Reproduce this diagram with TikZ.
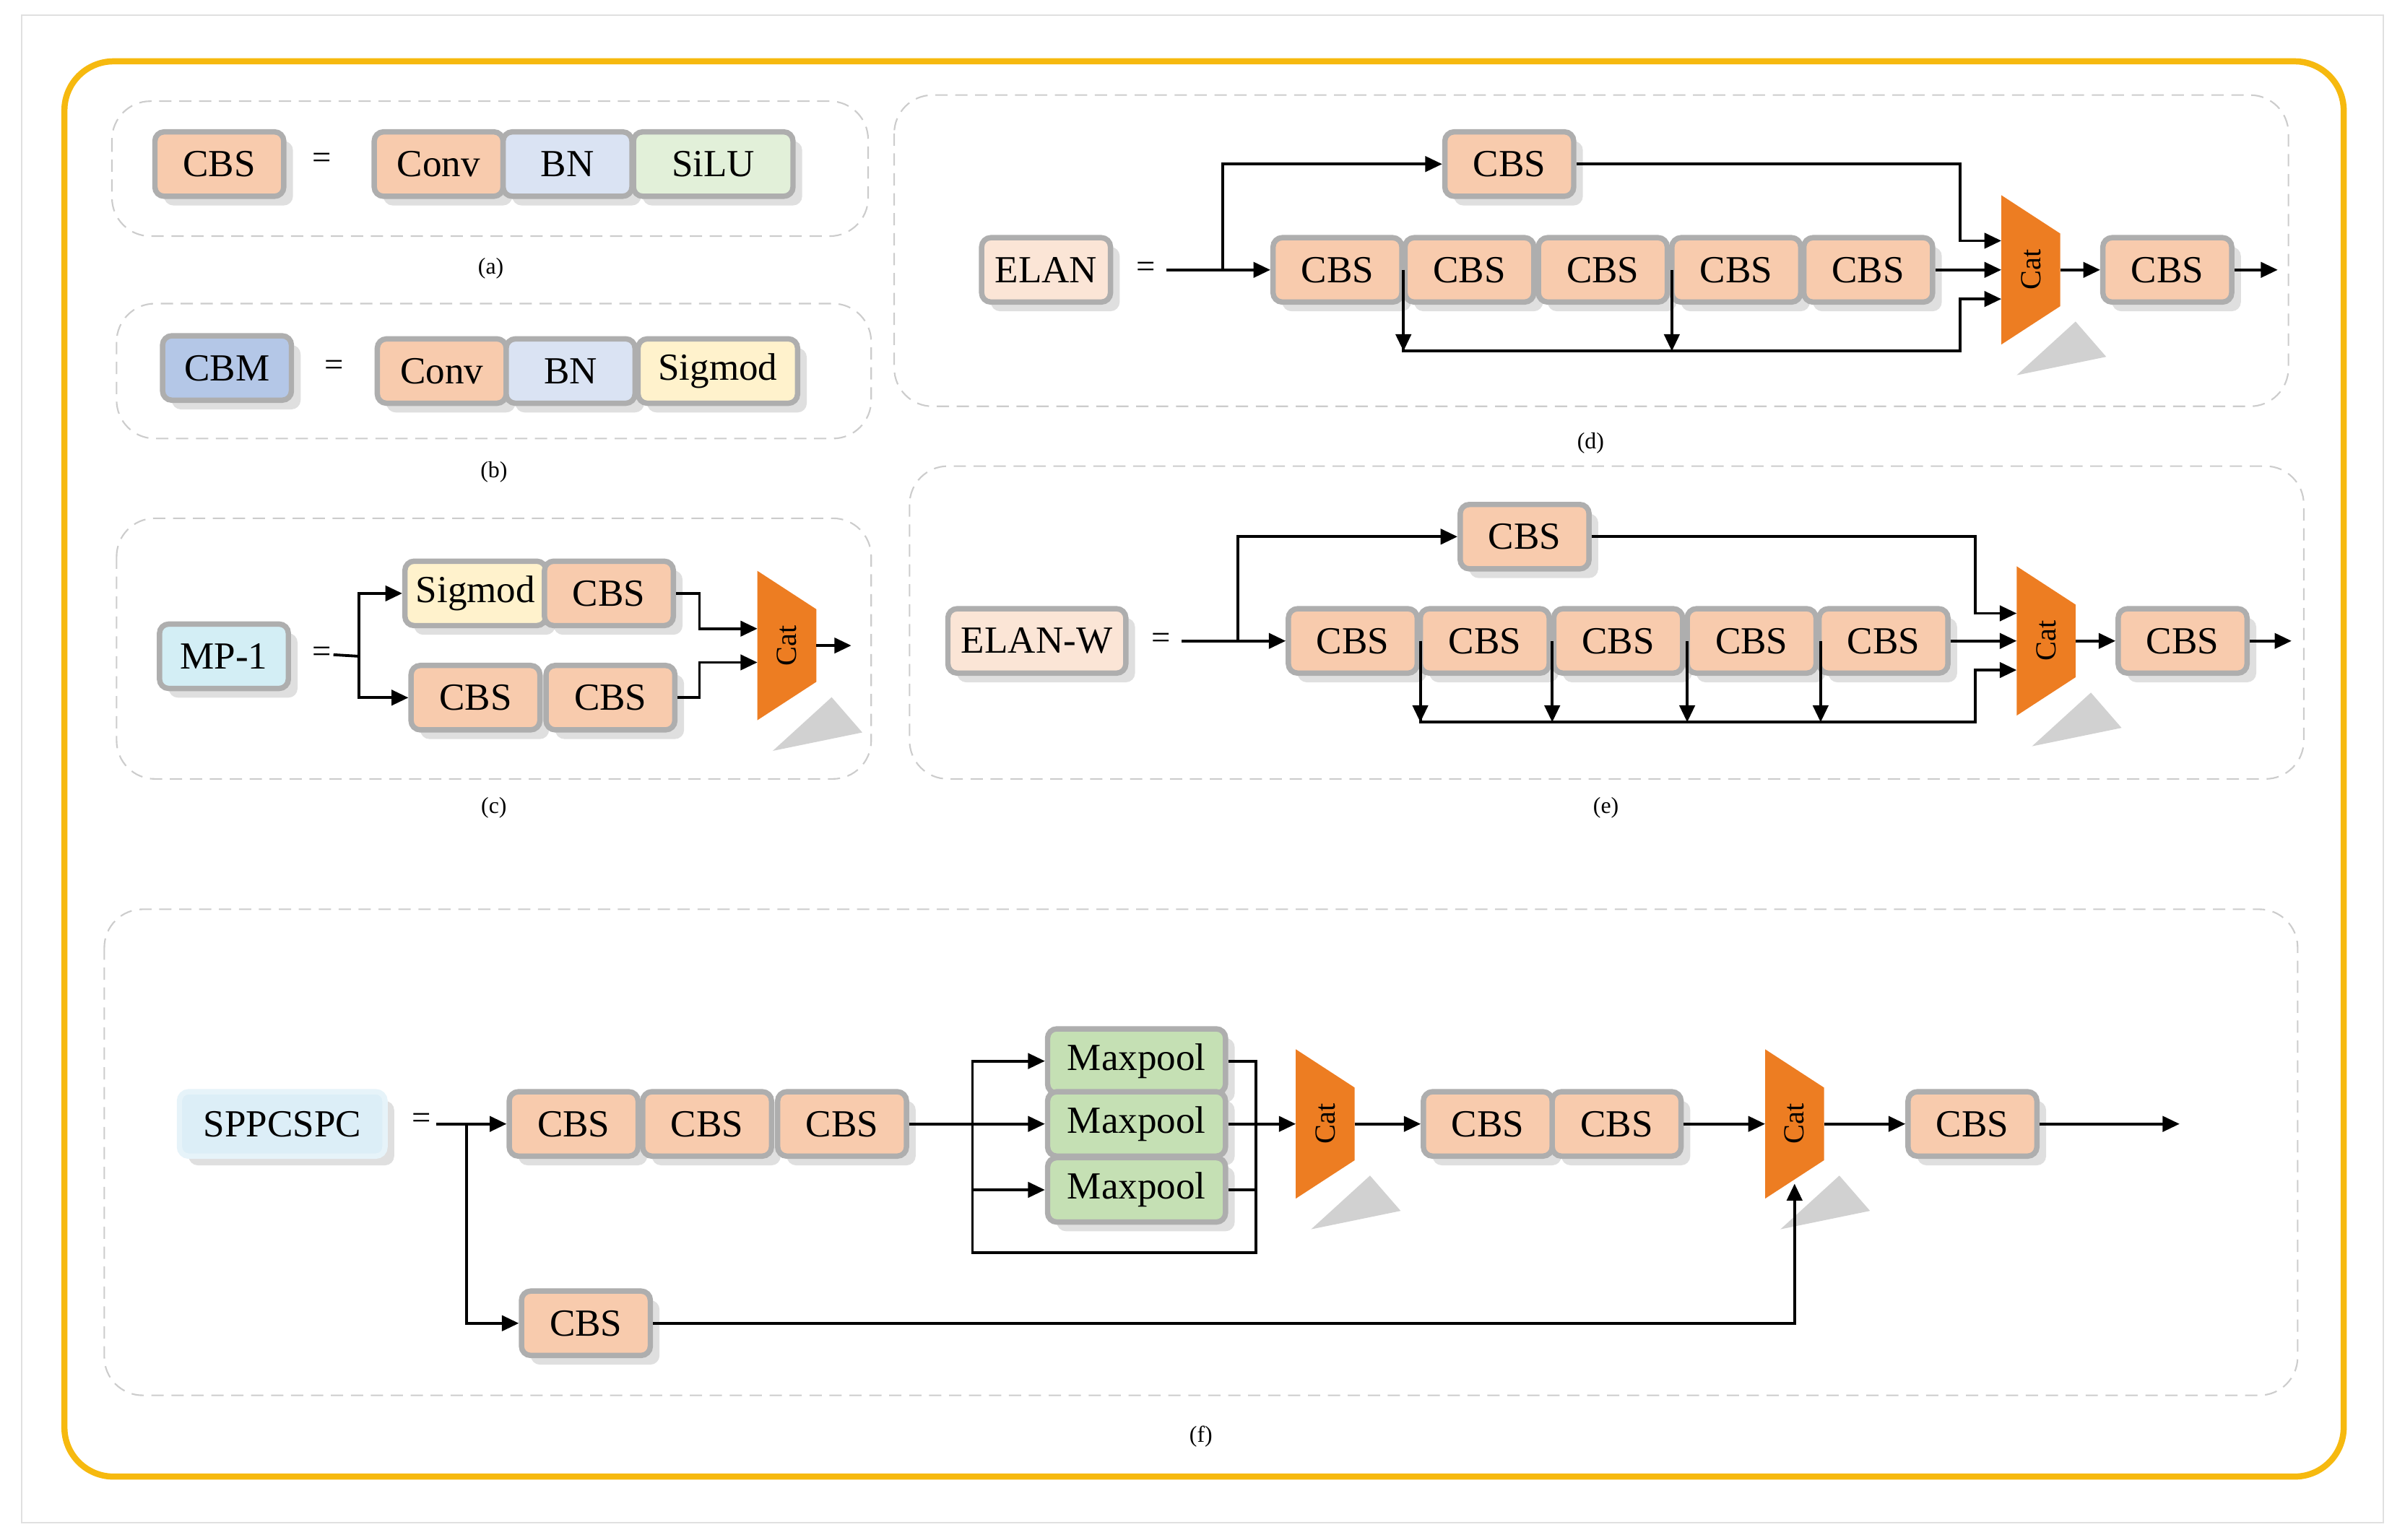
\documentclass[tikz,border=0pt]{standalone}
\usepackage{fontspec}
\setmainfont{Liberation Serif}
\usetikzlibrary{shadows,arrows.meta,calc}
\definecolor{cbsf}{HTML}{F8CBAD}
\definecolor{bnf}{HTML}{DAE3F3}
\definecolor{siluf}{HTML}{E2F0D9}
\definecolor{sigf}{HTML}{FFF2CC}
\definecolor{cbmf}{HTML}{B4C7E7}
\definecolor{mpf}{HTML}{D3EEF5}
\definecolor{elanf}{HTML}{FBE5D6}
\definecolor{mxf}{HTML}{C5E0B4}
\definecolor{sppf}{HTML}{DCEEF7}
\definecolor{catf}{HTML}{ED7D22}
\definecolor{outer}{HTML}{F6B90F}
\definecolor{bord}{HTML}{AEAEAE}
\definecolor{dash}{HTML}{CCCCCC}
\tikzset{
 blk/.style={draw=bord,line width=3.5pt,rounded corners=6pt,fill=cbsf,minimum height=42pt,minimum width=84pt,inner sep=0pt,
   font=\fontsize{25}{30}\selectfont,drop shadow={opacity=.25,shadow xshift=6pt,shadow yshift=-6pt}},
 panel/.style={draw=dash,dashed,line width=1pt,dash pattern=on 8pt off 5pt,rounded corners=25pt},
 lab/.style={font=\fontsize{15}{18}\selectfont},
 eq/.style={font=\fontsize{22}{26}\selectfont,inner sep=1pt},
 arr/.style={line width=1.8pt,-{Triangle[length=11pt,width=10pt]}},
 ln/.style={line width=1.8pt},
 catn/.style={minimum width=38pt,minimum height=97pt,inner sep=0pt},
}
\newcommand\catdraw[1]{%
 \fill[black,opacity=.18] ([xshift=10pt,yshift=-20pt]#1.south west) -- ([xshift=30pt,yshift=-8pt]#1.south east) -- ([xshift=10pt,yshift=15pt]#1.south east) -- cycle;
 \fill[catf] (#1.north west) -- ([yshift=-25pt]#1.north east) -- ([yshift=25pt]#1.south east) -- (#1.south west) -- cycle;
 \node[rotate=90,font=\fontsize{19}{22}\selectfont] at (#1) {Cat};}
\begin{document}
\begin{tikzpicture}[x=1pt,y=-1pt]
\useasboundingbox (0,0) rectangle (1568,1004);
\draw[black!12,line width=.8pt] (14,10) rectangle (1554,993);
\draw[outer,line width=4pt,rounded corners=32pt] (42,40) rectangle (1528,963);
% panels
\draw[panel] (73,66) rectangle (566,154);
\draw[panel] (76,198) rectangle (568,286);
\draw[panel] (76,338) rectangle (568,508);
\draw[panel] (583,62) rectangle (1492,265);
\draw[panel] (593,304) rectangle (1502,508);
\draw[panel] (68,593) rectangle (1498,910);
\node[lab] (la) at (320,175) {(a)};
\node[lab] (lb) at (322,308) {(b)};
\node[lab] (lc) at (322,527) {(c)};
\node[lab] (ld) at (1037,289) {(d)};
\node[lab] (le) at (1047,527) {(e)};
\node[lab] (lf) at (783,937) {(f)};
% (a)
\node[blk] (a0) at (143,107) {CBS};
\node[eq] (aeq) at (210,105) {=};
\node[blk] (a1) at (286,107) {Conv};
\node[blk,fill=bnf] (a2) at (370,107) {BN};
\node[blk,fill=siluf,minimum width=104pt] (a3) at (465,107) {SiLU};
% (b)
\node[blk,fill=cbmf] (b0) at (148,240) {CBM};
\node[eq] (beq) at (218,240) {=};
\node[blk] (b1) at (288,242) {Conv};
\node[blk,fill=bnf] (b2) at (372,242) {BN};
\node[blk,fill=sigf,minimum width=104pt] (b3) at (468,242) {Sigmod};
% (c)
\node[blk,fill=mpf] (c0) at (146,428) {MP-1};
\node[eq] (ceq) at (210,427) {=};
\node[blk,fill=sigf,minimum width=92pt] (c1) at (310,387) {Sigmod};
\node[blk] (c2) at (397,387) {CBS};
\node[blk] (c3) at (310,455) {CBS};
\node[blk] (c4) at (398,455) {CBS};
\node[catn] (ccat) at (513,421) {};
\catdraw{ccat}
\draw[ln] (ceq.east) -- (234,428) coordinate (cb);
\draw[arr] (cb) |- (c1.west);
\draw[arr] (cb) |- (c3.west);
\draw[arr] (c2.east) -| (456,410) -- (ccat.west |- 0,410);
\draw[arr] (c4.east) -| (456,432) -- (ccat.west |- 0,432);
\draw[arr] ([yshift=0pt]ccat.east) -- (555,421) coordinate (cout);
% (d)
\node[blk,fill=elanf] (d0) at (682,176) {ELAN};
\node[eq] (deq) at (747,176) {=};
\node[blk] (dt) at (984,107) {CBS};
\foreach \i/\x in {1/872,2/958,3/1045,4/1132,5/1218}{\node[blk] (d\i) at (\x,176) {CBS};}
\node[catn] (dcat) at (1324,176) {};
\catdraw{dcat}
\node[blk] (dout) at (1413,176) {CBS};
\coordinate (dbot) at (1278,229);
\draw[arr] (deq.east)++(6,0) -- (d1.west);
\draw[arr] (797,176) |- (dt.west);
\draw[arr] (dt.east) -| (1278,157) -- (dcat.west |- 0,157);
\draw[arr] (d5.east) -- (dcat.west);
\draw[arr] (915,176) |- (dbot) -- (1278,195) -- (dcat.west |- 0,195);
\draw[arr] (915,176) -- (915,229);
\draw[arr] (1090,176) -- (1090,229);
\draw[arr] (dcat.east) -- (dout.west);
\draw[arr] (dout.east) -- (1485,176) coordinate (doutc);
% (e)
\node[blk,fill=elanf,minimum width=116pt] (e0) at (676,418) {ELAN-W};
\node[eq] (eeq) at (757,418) {=};
\node[blk] (et) at (994,350) {CBS};
\foreach \i/\x in {1/882,2/968,3/1055,4/1142,5/1228}{\node[blk] (e\i) at (\x,418) {CBS};}
\node[catn] (ecat) at (1334,418) {};
\catdraw{ecat}
\node[blk] (eout) at (1423,418) {CBS};
\coordinate (ebot) at (1288,471);
\draw[arr] (eeq.east)++(6,0) -- (e1.west);
\draw[arr] (807,418) |- (et.west);
\draw[arr] (et.east) -| (1288,400) -- (ecat.west |- 0,400);
\draw[arr] (e5.east) -- (ecat.west);
\draw[arr] (926,418) |- (ebot) -- (1288,437) -- (ecat.west |- 0,437);
\foreach \x in {926,1012,1100,1187}{\draw[arr] (\x,418) -- (\x,471);}
\draw[arr] (ecat.east) -- (eout.west);
\draw[arr] (eout.east) -- (1494,418) coordinate (eoutc);
% (f)
\node[blk,fill=sppf,draw=sppf!70!white,minimum width=134pt] (f0) at (184,733) {SPPCSPC};
\node[eq] (feq) at (275,731) {=};
\node[blk] (f1) at (374,733) {CBS};
\node[blk] (f2) at (461,733) {CBS};
\node[blk] (f3) at (549,733) {CBS};
\node[blk] (fb) at (382,863) {CBS};
\node[blk,fill=mxf,minimum width=116pt] (m1) at (741,692) {Maxpool};
\node[blk,fill=mxf,minimum width=116pt] (m2) at (741,733) {Maxpool};
\node[blk,fill=mxf,minimum width=116pt] (m3) at (741,776) {Maxpool};
\node[catn] (fc1) at (864,733) {};
\catdraw{fc1}
\node[blk] (g1) at (970,733) {CBS};
\node[blk] (g2) at (1054,733) {CBS};
\node[catn] (fc2) at (1170,733) {};
\catdraw{fc2}
\node[blk] (g3) at (1286,733) {CBS};
\draw[arr] (feq.east)++(2,2) -- (f1.west);
\draw[arr] (304,733) |- (fb.west);
\draw[arr] (f3.east) -- (m2.west);
\draw[arr] (634,733) |- (m1.west);
\draw[arr] (634,733) |- (m3.west);
\draw[ln] (634,776) |- (819,817) -- (819,692) -- (m1.east);
\draw[ln] (m2.east) -- (819,733);
\draw[ln] (m3.east) -- (819,776);
\draw[arr] (819,733) -- (fc1.west);
\draw[arr] (fc1.east) -- (g1.west);
\draw[arr] (g2.east) -- (fc2.west);
\draw[arr] (fb.east) -| (fc2.south |- 0,772);
\draw[arr] (fc2.east) -- (g3.west);
\draw[arr] (g3.east) -- (1421,733) coordinate (fout);
\end{tikzpicture}
\end{document}
